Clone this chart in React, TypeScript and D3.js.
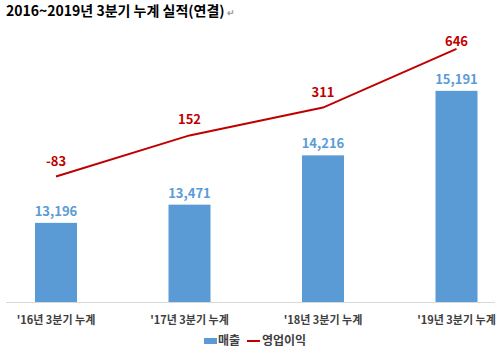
import React from "react";
import * as d3 from "d3";

const categories = ["'16년 3분기 누계", "'17년 3분기 누계", "'18년 3분기 누계", "'19년 3분기 누계"];
const sales = [13196, 13471, 14216, 15191];
const profit = [-83, 152, 311, 646];
const salesLabels = ["13,196", "13,471", "14,216", "15,191"];
const profitLabels = ["-83", "152", "311", "646"];
const title = "2016~2019년 3분기 누계 실적(연결)";
const legendNames = ["매출", "영업이익"];

const W = 500;
const H = 353;
const BLUE = "#5B9BD5";
const RED = "#C00000";
const FONT = "'Noto Sans CJK KR', 'Noto Sans', sans-serif";

export default function App() {
  const x = d3.scalePoint<string>().domain(categories).range([56, 456.5]);
  const y1 = d3.scaleLinear().domain([12000, 16000]).range([302, 37.3]);
  const y2 = d3.scaleLinear().domain([-800, 800]).range([302, 22]);
  const barW = 42;
  const line = d3
    .line<number>()
    .x((_, i) => x(categories[i]) as number)
    .y((d) => y2(d));

  return (
    <svg
      width={W}
      height={H}
      style={{ position: "absolute", left: 0, top: 0, background: "#fff" }}
      fontFamily={FONT}
    >
      <rect width={W} height={H} fill="#fff" />
      <text x={6} y={16} fontSize={14} fontWeight="bold" fill="#000">
        {title}
        <tspan fontSize={9} fill="#999" dx={2}>↵</tspan>
      </text>

      <line x1={6} x2={495} y1={302.5} y2={302.5} stroke="#D9D9D9" strokeWidth={1} />

      {sales.map((v, i) => {
        const cx = x(categories[i]) as number;
        return (
          <g key={i}>
            <rect x={cx - barW / 2} y={y1(v)} width={barW} height={302 - y1(v)} fill={BLUE} />
            <text
              x={cx}
              y={y1(v) - 7}
              textAnchor="middle"
              fontSize={13}
              fontWeight="bold"
              fill={BLUE}
            >
              {salesLabels[i]}
            </text>
          </g>
        );
      })}

      <path d={line(profit) || ""} fill="none" stroke={RED} strokeWidth={2} />
      {profit.map((v, i) => {
        const cx = x(categories[i]) as number;
        const ty = Math.max(y2(v) - 11, 46);
        return (
          <text key={i} x={cx} y={ty} textAnchor="middle" fontSize={13} fontWeight="bold" fill={RED}>
            {profitLabels[i]}
          </text>
        );
      })}

      {categories.map((c, i) => (
        <text
          key={i}
          x={x(c) as number}
          y={324}
          textAnchor="middle"
          fontSize={11}
          fontWeight="bold"
          fill="#404040"
        >
          {c}
        </text>
      ))}

      <g>
        <rect x={204} y={338} width={13} height={6} fill={BLUE} />
        <text x={218} y={345} fontSize={12} fontWeight="bold" fill="#404040">
          {legendNames[0]}
        </text>
        <line x1={247} x2={260} y1={341} y2={341} stroke={RED} strokeWidth={2} />
        <text x={262} y={345} fontSize={12} fontWeight="bold" fill="#404040">
          {legendNames[1]}
        </text>
      </g>
    </svg>
  );
}
